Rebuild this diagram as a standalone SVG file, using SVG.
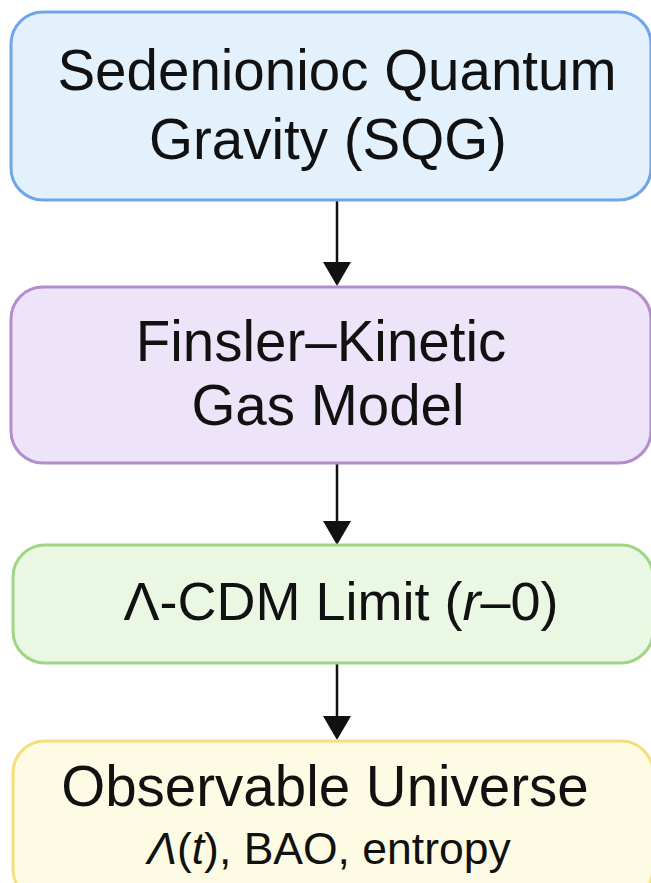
<svg xmlns="http://www.w3.org/2000/svg" width="651" height="883" viewBox="0 0 651 883">
<defs>
<style>
.t{font-family:"Liberation Sans",Arial,sans-serif;fill:#111;text-anchor:middle;}
.big{font-size:56.5px;}
.mid{font-size:54px;}
.small{font-size:44.5px;}
.box{stroke-width:3;}
.conn{stroke:#111;stroke-width:2.5;fill:none;}
</style>
</defs>
<rect width="651" height="883" fill="#ffffff"/>
<g id="connectors">
<line class="conn" x1="337" y1="201" x2="337" y2="263"/>
<path d="M323,262 L351,262 L337,286 Z" fill="#111"/>
<line class="conn" x1="337" y1="464" x2="337" y2="522"/>
<path d="M323,521 L351,521 L337,545 Z" fill="#111"/>
<line class="conn" x1="337" y1="664" x2="337" y2="717"/>
<path d="M323,716 L351,716 L337,740 Z" fill="#111"/>
</g>
<g id="node-sqg">
<rect class="box" x="11" y="12" width="640" height="188" rx="32" fill="#e3f1fd" stroke="#6fa6ea"/>
<text class="t big" x="337" y="90">Sedenionioc Quantum</text>
<text class="t big" x="328" y="159">Gravity (SQG)</text>
</g>
<g id="node-finsler">
<rect class="box" x="11" y="287" width="640" height="176" rx="32" fill="#ede4fa" stroke="#b48dcc"/>
<text class="t big" x="321" y="361">Finsler–Kinetic</text>
<text class="t big" x="328" y="425">Gas Model</text>
</g>
<g id="node-lcdm">
<rect class="box" x="13" y="545" width="640" height="118" rx="32" fill="#eaf8e3" stroke="#9fd684"/>
<text class="t mid" x="341" y="620">Λ-CDM Limit (<tspan font-style="italic">r</tspan>–0)</text>
</g>
<g id="node-observable">
<rect class="box" x="13" y="741" width="640" height="160" rx="32" fill="#fdfbe3" stroke="#f3df7c"/>
<text class="t big" x="325" y="806">Observable Universe</text>
<text class="t small" x="329" y="864"><tspan font-style="italic">Λ</tspan>(<tspan font-style="italic">t</tspan>), BAO, entropy</text>
</g>
</svg>
